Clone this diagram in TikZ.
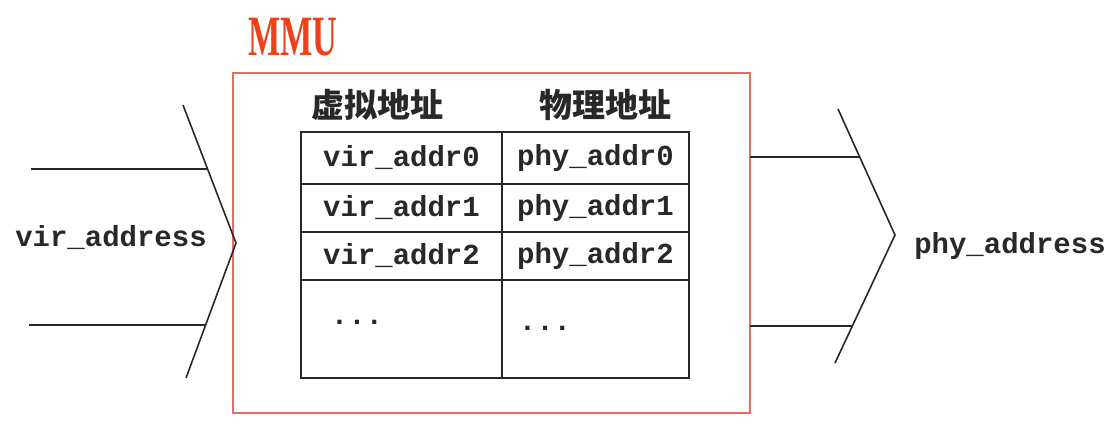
\documentclass[tikz,border=0pt]{standalone}
\usepackage{fontspec}
\usepackage{graphicx}
\setmainfont{Liberation Serif}
\setmonofont{Liberation Mono}
\newfontfamily\cjk{Noto Sans CJK SC}
\usetikzlibrary{positioning}
\definecolor{mmuline}{RGB}{228,112,92}
\definecolor{mmutext}{RGB}{238,64,28}
\definecolor{ink}{RGB}{40,40,40}
\tikzset{
  cell/.style={draw=ink, line width=1.6pt, inner sep=0pt, text=ink, font=\ttfamily\bfseries\fontsize{29}{30}\selectfont},
  wire/.style={draw=ink, line width=1.6pt},
  addr/.style={font=\ttfamily\bfseries\fontsize{29}{30}\selectfont, text=ink, inner sep=0pt},
  head/.style={font=\cjk\bfseries\fontsize{33}{35}\selectfont, text=ink, inner sep=0pt}
}

\begin{document}
\begin{tikzpicture}[x=1pt,y=-1pt]
        \useasboundingbox (0,0) rectangle (1119,440);
        % MMU box and its name
        \node[draw=mmuline, line width=2.2pt, minimum width=517pt, minimum height=340pt, inner sep=0pt] (mmu) at (491.5,243) {};
        \node[text=mmutext, font=\bfseries\fontsize{57}{57}\selectfont, inner sep=0pt] (mmuname) at (293,37) {\scalebox{0.6}[1]{MMU}};
        % table headers
        \node[head] (vhead) at (377,105) {虚拟地址};
        \node[head] (phead) at (605,105) {物理地址};
        % table rows
        \foreach \r/\yc/\h in {0/158/52, 1/208/48, 2/256/48}{
            \node[cell, minimum width=201pt, minimum height=\h pt] (v\r) at (401.5,\yc) {vir\_addr\r};
            \node[cell, minimum width=187pt, minimum height=\h pt] (p\r) at (595.5,\yc) {phy\_addr\r};
        }
        \node[cell, minimum width=201pt, minimum height=98pt] (v3) at (401.5,329) {};
        \node[cell, minimum width=187pt, minimum height=98pt] (p3) at (595.5,329) {};
        \node[addr] (vdots) at (357,322) {...};
        \node[addr] (pdots) at (545,328) {...};
        % input side
        \coordinate (ltop) at (183,105);
        \coordinate (ltip) at (236,243);
        \coordinate (lbot) at (186,378);
        \coordinate (lin1) at (31,169);
        \coordinate (lend1) at (207,169);
        \coordinate (lin2) at (29,325);
        \coordinate (lend2) at (205,325);
        \draw[wire] (ltop) -- (ltip) -- (lbot);
        \draw[wire] (lin1) -- (lend1);
        \draw[wire] (lin2) -- (lend2);
        \node[addr] (vir) at (111,238) {vir\_address};
        % output side
        \coordinate (rtop) at (838,109);
        \coordinate (rtip) at (895,235);
        \coordinate (rbot) at (835,363);
        \coordinate (rout1) at (750,157);
        \coordinate (rend1) at (860,157);
        \coordinate (rout2) at (750,326);
        \coordinate (rend2) at (852,326);
        \draw[wire] (rtop) -- (rtip) -- (rbot);
        \draw[wire] (rout1) -- (rend1);
        \draw[wire] (rout2) -- (rend2);
        \node[addr] (phy) at (1010,246) {phy\_address};
\end{tikzpicture}
\end{document}
